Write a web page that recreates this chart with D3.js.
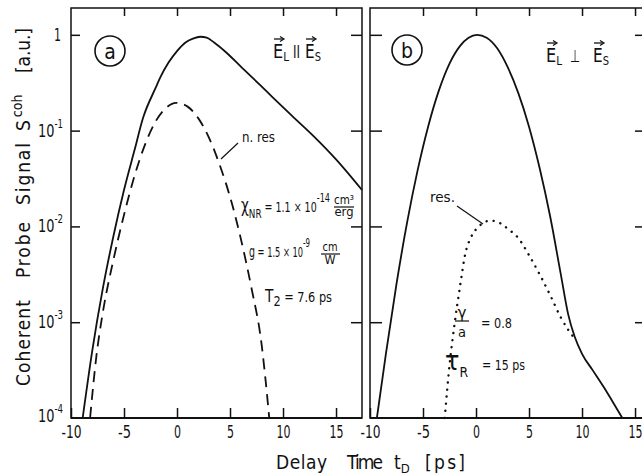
<!DOCTYPE html>
<html><head><meta charset="utf-8">
<script src="https://cdn.jsdelivr.net/npm/d3@7"></script>
<style>
body{margin:0;background:#fff}
svg{display:block}
text{font-family:"DejaVu Sans Condensed","DejaVu Sans",sans-serif;fill:#111}
</style>
</head><body>
<svg id="c" width="642" height="475"></svg>
<script>
// ---------- data ----------
const xTicks = [-10, -5, 0, 5, 10, 15];
const yTicks = [1e-4, 1e-3, 1e-2, 1e-1, 1];
const yTickExp = ["-4", "-3", "-2", "-1", ""];

// panel (a): E_L || E_S
const tSolidA = [-8.9,-8,-7,-6,-5,-4,-3.2,-2,-1.6,-0.8,0,0.8,1.5,2.2,2.8,3.5,4.7,6,7.8,9,10.9,13,15,17.45];
const sSolidA = [1.0e-4,5.0e-4,2.24e-3,7.9e-3,0.024,0.063,0.136,0.282,0.355,0.513,0.676,0.832,0.912,0.955,0.933,0.832,0.646,0.468,0.302,0.224,0.141,0.0851,0.0501,0.024];
const tNonRes = [-8.2,-7.6,-7,-6,-5,-4,-3,-2,-1,-0.1,1,2,3,4,5.2,6,7,8,8.35,8.7];
const sNonRes = [1e-4,4.47e-4,1.26e-3,4.47e-3,0.0132,0.0339,0.0724,0.126,0.174,0.195,0.178,0.135,0.0851,0.0447,0.017,7.59e-3,2.34e-3,5.62e-4,2.51e-4,1e-4];

// panel (b): E_L ⊥ E_S
const tSolidB = [-9.35,-8.5,-7.5,-6.5,-5.5,-4.5,-3.5,-2.5,-1.5,-0.7,0.1,1,2,3,4,5,6,7,8,8.7,9.3,10,11,12,13,13.8];
const sSolidB = [1e-4,4.68e-4,2.51e-3,0.011,0.0389,0.112,0.263,0.501,0.767,0.933,1,0.933,0.724,0.457,0.245,0.11,0.0407,0.0126,3.16e-3,1.2e-3,7.08e-4,4.68e-4,3.16e-4,2.14e-4,1.41e-4,1e-4];
const tRes = [-2.95,-2.5,-2,-1.5,-1,-0.5,0,0.6,1.3,2,2.6,3.3,3.9,5,6,7,8,8.7,9.3];
const sRes = [1e-4,3.55e-4,1e-3,2.4e-3,5.25e-3,7.59e-3,9.33e-3,0.0107,0.0115,0.0112,0.0102,8.91e-3,7.76e-3,5.01e-3,3.16e-3,1.91e-3,1.12e-3,8.32e-4,6.76e-4];

// ---------- drawing ----------
const svg = d3.select("#c");
svg.append("rect").attr("width", 642).attr("height", 475).attr("fill", "#fff");
const INK = "#111";

const y = d3.scaleLog().domain([1e-4, Math.pow(10, 0.28)]).range([418, 8]);
const xA = d3.scaleLinear().domain([-10, 17.45]).range([71, 362]);
const xB = d3.scaleLinear().domain([-10, 15.94]).range([370, 645]);

function fmt(d){ return d < 0 ? "-" + Math.abs(d) : String(d); }
function labelLen(s){ return s.replace("-", "").length * 7 + (s.startsWith("-") ? 6 : 0); }

// narrow text helper: squeezes glyphs to the reference width
function txt(x, yy, s, size, len, anchor){
  const t = svg.append("text").attr("x", x).attr("y", yy).attr("font-size", size).text(s);
  if (len) t.attr("textLength", len).attr("lengthAdjust", "spacingAndGlyphs");
  if (anchor) t.attr("text-anchor", anchor);
  return t;
}
// text with a raised (sup) or lowered (sub) second part, one element
function txt2(x, yy, a, b, size, bsize, shift, len, anchor){
  const t = svg.append("text").attr("x", x).attr("y", yy).attr("font-size", size);
  t.append("tspan").text(a);
  t.append("tspan").attr("font-size", bsize).attr("dy", shift).text(b);
  if (len) t.attr("textLength", len).attr("lengthAdjust", "spacingAndGlyphs");
  if (anchor) t.attr("text-anchor", anchor);
  return t;
}

function styleAxis(g){
  g.select(".domain").remove();
  g.selectAll(".tick line").attr("stroke", INK).attr("stroke-width", 1.5);
  g.selectAll(".tick text").attr("font-size", 18).attr("fill", INK)
   .style("font-family", '"DejaVu Sans Condensed","DejaVu Sans",sans-serif')
   .each(function(){ const s = this.textContent; if (s) d3.select(this).attr("textLength", labelLen(s)).attr("lengthAdjust", "spacingAndGlyphs"); });
}

function panel(x, left, right, tl, tr){
  const g = svg.append("g");
  g.append("rect").attr("x", left).attr("y", 8).attr("width", right - left).attr("height", 410)
    .attr("fill", "none").attr("stroke", INK).attr("stroke-width", 1.5);
  g.append("line").attr("x1", left).attr("x2", right).attr("y1", 418).attr("y2", 418)
    .attr("stroke", INK).attr("stroke-width", 2.2);
  g.append("g").attr("transform", "translate(0,418)")
    .call(d3.axisBottom(x).tickValues(xTicks).tickSize(-10).tickSizeOuter(0).tickPadding(7).tickFormat(fmt))
    .call(styleAxis);
  g.append("g").attr("transform", "translate(0,8)")
    .call(d3.axisTop(x).tickValues(xTicks.slice(1)).tickSize(-8).tickSizeOuter(0).tickFormat(""))
    .call(styleAxis);
  g.append("g").attr("transform", `translate(${left},0)`)
    .call(d3.axisLeft(y).tickValues(yTicks.slice(1)).tickSize(-tl).tickSizeOuter(0).tickFormat(""))
    .call(styleAxis);
  g.append("g").attr("transform", `translate(${right},0)`)
    .call(d3.axisRight(y).tickValues(yTicks.slice(1)).tickSize(-tr).tickSizeOuter(0).tickFormat(""))
    .call(styleAxis);
  return g;
}
panel(xA, 71, 362, 9, 11);
panel(xB, 370, 645, 12, 10);

// y tick labels
yTicks.forEach((v, i) => {
  const yy = Math.min(y(v) + 6, 422);
  if (yTickExp[i] === "") { txt(61, yy, "1", 18, 7, "end"); }
  else { txt2(63, yy, "10", yTickExp[i], 18, 12, -9, 25, "end"); }
});

// curves
function curve(x, ts, vs, dash, w, cap){
  const pts = ts.map((t, i) => [t, vs[i]]);
  svg.append("path").datum(pts)
    .attr("d", d3.line().x(d => x(d[0])).y(d => y(d[1])).curve(d3.curveMonotoneX))
    .attr("fill", "none").attr("stroke", INK).attr("stroke-width", w)
    .attr("stroke-dasharray", dash).attr("stroke-linecap", cap || "butt");
}
curve(xA, tSolidA, sSolidA, null, 1.8);
curve(xA, tNonRes, sNonRes, "11 7", 1.8);
curve(xB, tSolidB, sSolidB, null, 1.8);
curve(xB, tRes, sRes, "0.1 7", 2.4, "round");

// y title (rotated): words placed bottom-to-top
function yword(txtS, yStart, len){
  return svg.append("text").attr("font-size", 19).attr("transform", `translate(30,${yStart}) rotate(-90)`)
    .attr("textLength", len).attr("lengthAdjust", "spacing").text(txtS);
}
yword("Coherent", 386, 86);
yword("Probe", 278, 56);
yword("Signal", 205, 62);
{
  const t = svg.append("text").attr("font-size", 19).attr("transform", "translate(30,131) rotate(-90)");
  t.append("tspan").text("S");
  t.append("tspan").attr("font-size", 14).attr("dy", -8).attr("dx", 3).text("coh");
}
yword("[a.u.]", 73, 45);

// x title
function xword(s, x, len){
  return svg.append("text").attr("font-size", 19).attr("x", x).attr("y", 469)
    .attr("textLength", len).attr("lengthAdjust", "spacing").text(s);
}
xword("Delay", 276, 51);
xword("Time", 347, 36);
txt2(394, 469, "t", "D", 19, 13, 4);
xword("[ps]", 425, 40);

// panel labels
function circ(cx, cy, letter){
  svg.append("circle").attr("cx", cx).attr("cy", cy).attr("r", 15).attr("fill", "none")
    .attr("stroke", INK).attr("stroke-width", 1.6);
  svg.append("text").attr("x", cx).attr("y", cy).attr("dy", "0.36em").attr("text-anchor", "middle")
    .attr("font-size", 21).text(letter);
}
circ(110, 51, "a");
circ(407, 50, "b");

// vector E labels
function vecE(x, base, sub){
  txt2(x, base, "E", sub, 20, 13, 3, 16);
  const ay = base - 19;
  svg.append("line").attr("x1", x + 1).attr("x2", x + 10).attr("y1", ay).attr("y2", ay)
    .attr("stroke", INK).attr("stroke-width", 1.3);
  svg.append("path").attr("d", `M${x + 7},${ay - 2.5} L${x + 11},${ay} L${x + 7},${ay + 2.5}`)
    .attr("fill", "none").attr("stroke", INK).attr("stroke-width", 1.2);
}
vecE(273, 58, "L");
txt(293, 58, "II", 18, 7);
vecE(305, 58, "S");
vecE(546, 62, "L");
txt(570, 62, "\u22A5", 17, 10);
vecE(593, 62, "S");

// annotations panel a
txt(242, 142, "n. res", 14, 33);
svg.append("line").attr("x1", 238).attr("y1", 143).attr("x2", 221).attr("y2", 159).attr("stroke", INK).attr("stroke-width", 1.2);

{
  const t = svg.append("text").attr("x", 241).attr("y", 212).attr("font-size", 20);
  t.append("tspan").text("\u03C7");
  t.append("tspan").attr("font-size", 13).attr("dy", 6).text("NR");
  t.append("tspan").attr("font-size", 14).attr("dy", -6).text(" = 1.1 \u00D7 10");
  t.append("tspan").attr("font-size", 12).attr("dy", -10).text("-14");
  t.attr("textLength", 89).attr("lengthAdjust", "spacingAndGlyphs");
}
txt(344, 204, "cm\u00B3", 12, 20, "middle");
svg.append("line").attr("x1", 334).attr("x2", 354).attr("y1", 207).attr("y2", 207).attr("stroke", INK).attr("stroke-width", 1.2);
txt(344, 216, "erg", 12, 19, "middle");

{
  const t = svg.append("text").attr("x", 249).attr("y", 257).attr("font-size", 16);
  t.append("tspan").text("g");
  t.append("tspan").attr("font-size", 14).text(" = 1.5 \u00D7 10");
  t.append("tspan").attr("font-size", 12).attr("dy", -10).text("-9");
  t.attr("textLength", 61).attr("lengthAdjust", "spacingAndGlyphs");
}
txt(330, 251, "cm", 12, 15, "middle");
svg.append("line").attr("x1", 321).attr("x2", 340).attr("y1", 254).attr("y2", 254).attr("stroke", INK).attr("stroke-width", 1.2);
txt(330, 264, "W", 12, 11, "middle");

{
  const t = svg.append("text").attr("x", 265).attr("y", 302).attr("font-size", 17);
  t.append("tspan").text("T");
  t.append("tspan").attr("font-size", 14).attr("dy", 4).text("2");
  t.append("tspan").attr("font-size", 14).attr("dy", -4).text(" = 7.6 ps");
  t.attr("textLength", 67).attr("lengthAdjust", "spacingAndGlyphs");
}

// annotations panel b
txt(430, 202, "res.", 14, 25);
svg.append("line").attr("x1", 457).attr("y1", 206).attr("x2", 483).attr("y2", 224).attr("stroke", INK).attr("stroke-width", 1.2);

txt(462, 318, "\u03B3", 15, 9, "middle");
svg.append("line").attr("x1", 455).attr("x2", 469).attr("y1", 321).attr("y2", 321).attr("stroke", INK).attr("stroke-width", 1.2);
txt(462, 337, "a", 14, 8, "middle");
txt(481, 328, "=  0.8", 14, 31);
txt2(445, 370, "\u03C4", "R", 27, 14, 7, 23);
txt(482, 370, "= 15 ps", 14, 43);
</script>
</body></html>
